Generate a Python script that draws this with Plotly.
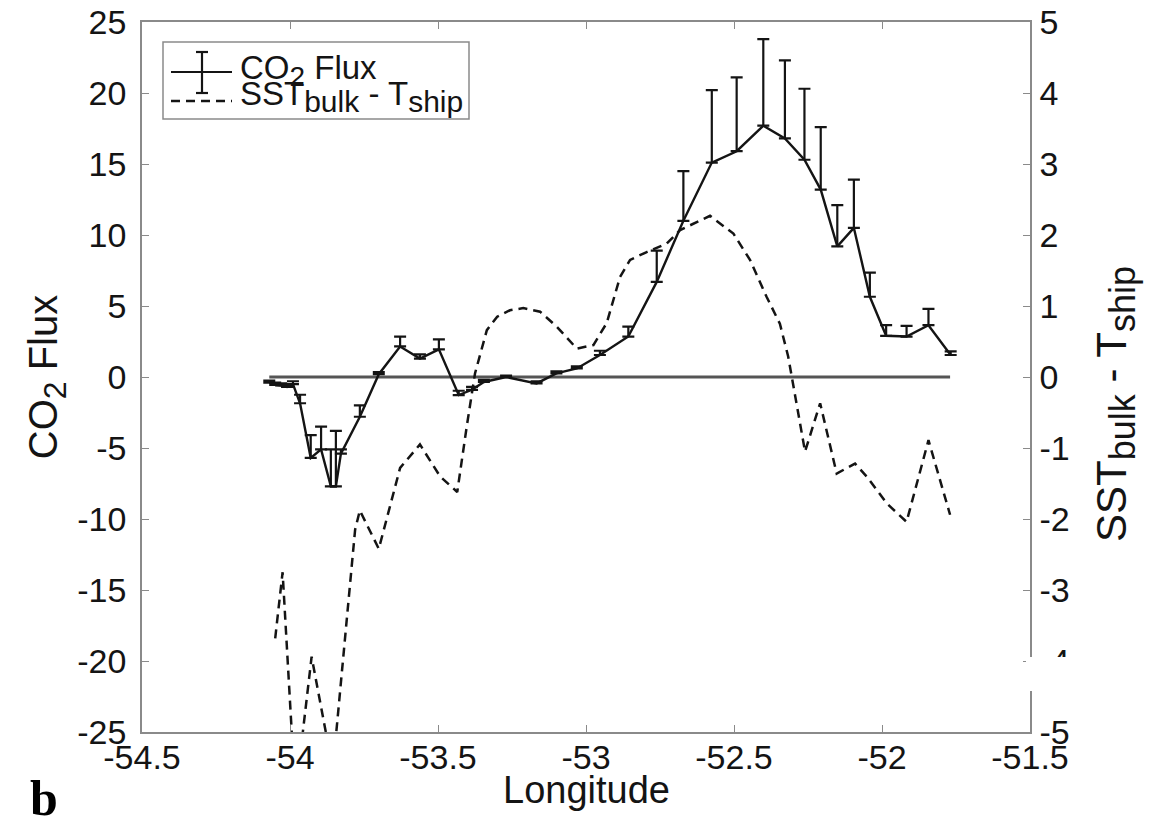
import plotly.graph_objects as go

# CO2 flux along the track (longitude, flux, upper error)
co2_lon = [-54.07, -54.05, -54.03, -54.01, -53.99, -53.966, -53.93, -53.895, -53.862, -53.845,
           -53.828, -53.764, -53.70, -53.628, -53.561, -53.497, -53.43, -53.385, -53.345, -53.27,
           -53.167, -53.10, -53.031, -52.953, -52.857, -52.761, -52.671, -52.575, -52.491, -52.401,
           -52.328, -52.262, -52.207, -52.151, -52.095, -52.041, -51.986, -51.917, -51.843, -51.768]
co2_flux = [-0.40, -0.55, -0.60, -0.70, -0.50, -1.85, -5.70, -5.10, -7.70, -7.70,
            -5.40, -2.80, 0.20, 2.15, 1.30, 1.95, -1.27, -0.90, -0.35, 0.00,
            -0.45, 0.25, 0.60, 1.55, 2.85, 6.70, 11.0, 15.1, 15.9, 17.7,
            16.8, 15.3, 13.2, 9.2, 10.5, 5.65, 2.9, 2.85, 3.65, 1.55]
co2_err = [0.15, 0.15, 0.15, 0.20, 0.20, 0.60, 1.60, 1.60, 2.60, 3.90,
           0.30, 0.80, 0.15, 0.70, 0.30, 0.70, 0.30, 0.20, 0.15, 0.10,
           0.15, 0.15, 0.15, 0.30, 0.70, 2.20, 3.50, 5.10, 5.20, 6.10,
           5.50, 5.00, 4.40, 2.90, 3.40, 1.70, 0.75, 0.75, 1.15, 0.25]

# SST_bulk - T_ship (right axis)
sst_lon = [-54.05, -54.025, -53.99, -53.965, -53.927, -53.87, -53.848, -53.78, -53.764, -53.70,
           -53.628, -53.561, -53.493, -53.435, -53.403, -53.375, -53.335, -53.30, -53.257, -53.212,
           -53.155, -53.099, -53.031, -52.975, -52.93, -52.885, -52.851, -52.795, -52.727, -52.682,
           -52.581, -52.502, -52.446, -52.39, -52.345, -52.317, -52.26, -52.209, -52.153, -52.091,
           -52.052, -51.984, -51.917, -51.843, -51.77]
sst_diff = [-3.68, -2.75, -5.3, -5.3, -3.94, -5.2, -5.2, -2.15, -1.88, -2.42,
            -1.28, -0.95, -1.40, -1.62, -0.70, 0.05, 0.66, 0.85, 0.94, 0.97,
            0.92, 0.71, 0.40, 0.45, 0.76, 1.41, 1.65, 1.76, 1.88, 2.07,
            2.27, 2.02, 1.65, 1.13, 0.75, 0.29, -1.05, -0.37, -1.36, -1.22,
            -1.40, -1.78, -2.04, -0.89, -1.94]

zero_lon = [-54.07, -51.77]
zero_val = [0, 0]

x_ticks = [-54.5, -54, -53.5, -53, -52.5, -52, -51.5]
x_labels = ["-54.5", "-54", "-53.5", "-53", "-52.5", "-52", "-51.5"]
y1_ticks = [-25, -20, -15, -10, -5, 0, 5, 10, 15, 20, 25]
y1_labels = [str(v) for v in y1_ticks]
y2_ticks = [-5, -4, -3, -2, -1, 0, 1, 2, 3, 4, 5]
y2_labels = [str(v) for v in y2_ticks]

FONT = "Liberation Sans, Arial, sans-serif"
INK = "#141414"
AX = "#8a8a8a"

# plot frame in pixels, used for placing the hand-drawn legend and titles
L, R, T, B = 142, 1030, 22, 732


def px(x):
    return (x - L) / (R - L)


def py(y):
    return (B - y) / (B - T)


def sub(s, size):
    # subscripts in the original are nearly full size
    return '<sub><span style="font-size:%dpx">%s</span></sub>' % (size, s)


fig = go.Figure()
fig.add_trace(go.Scatter(x=zero_lon, y=zero_val, mode="lines",
                         line=dict(color="#555555", width=2.8), showlegend=False))
fig.add_trace(go.Scatter(
    x=co2_lon, y=co2_flux, mode="lines", line=dict(color=INK, width=2.4),
    error_y=dict(type="data", symmetric=False, array=co2_err, arrayminus=[0] * len(co2_err),
                 color=INK, thickness=2.2, width=6),
    showlegend=False))
fig.add_trace(go.Scatter(x=sst_lon, y=sst_diff, mode="lines", yaxis="y2",
                         line=dict(color=INK, width=2.5, dash="9px,6px"), showlegend=False))

axis_common = dict(showgrid=False, zeroline=False, showline=True, linecolor=AX, linewidth=1.5,
                   ticks="inside", ticklen=7, tickcolor=AX, tickwidth=1.2,
                   tickfont=dict(family=FONT, size=34, color=INK), automargin=False)

fig.update_layout(
    width=1161, height=828,
    margin=dict(l=L, r=1161 - R, t=T, b=828 - B),
    paper_bgcolor="white", plot_bgcolor="white",
    template="none",
    showlegend=False,
    xaxis=dict(range=[-54.5, -51.5], tickvals=x_ticks, ticktext=x_labels, mirror="ticks",
               ticklabelstandoff=-6, **axis_common),
    yaxis=dict(range=[-25, 25], tickvals=y1_ticks, ticktext=y1_labels, mirror=True,
               ticklabelstandoff=7,
               title=dict(text="CO" + sub("2", 32) + " Flux", font=dict(family=FONT, size=40, color=INK),
                          standoff=7),
               **axis_common),
    yaxis2=dict(range=[-5, 5], tickvals=y2_ticks, ticktext=y2_labels, overlaying="y", side="right",
                ticklabelstandoff=1, **axis_common),
)

# legend drawn by hand so the error-bar glyph shows
shapes = [
    dict(type="rect", xref="paper", yref="paper", x0=px(163), x1=px(469), y0=py(119), y1=py(42),
         line=dict(color=AX, width=1.5), fillcolor="white", layer="above"),
    dict(type="line", xref="paper", yref="paper", x0=px(171), x1=px(232), y0=py(72), y1=py(72),
         line=dict(color=INK, width=2.2)),
    dict(type="line", xref="paper", yref="paper", x0=px(202), x1=px(202), y0=py(52), y1=py(93),
         line=dict(color=INK, width=2.2)),
    dict(type="line", xref="paper", yref="paper", x0=px(196), x1=px(208), y0=py(52), y1=py(52),
         line=dict(color=INK, width=2.2)),
    dict(type="line", xref="paper", yref="paper", x0=px(196), x1=px(208), y0=py(93), y1=py(93),
         line=dict(color=INK, width=2.2)),
    dict(type="line", xref="paper", yref="paper", x0=px(171), x1=px(232), y0=py(101), y1=py(101),
         line=dict(color=INK, width=2.5, dash="9px,6px")),
    # white patch over the right axis, as in the scanned figure
    dict(type="rect", xref="paper", yref="paper", x0=px(1026), x1=px(1085), y0=py(691), y1=py(657),
         line=dict(width=0), fillcolor="white", layer="above"),
]
fig.update_layout(shapes=shapes)

fig.add_annotation(x=px(238), y=py(70), xref="paper", yref="paper", xanchor="left", yanchor="middle",
                   text="CO" + sub("2", 28) + " Flux", showarrow=False,
                   font=dict(family=FONT, size=33, color=INK))
fig.add_annotation(x=px(238), y=py(97), xref="paper", yref="paper", xanchor="left", yanchor="middle",
                   text="SST" + sub("bulk", 30) + " - T" + sub("ship", 30), showarrow=False,
                   font=dict(family=FONT, size=33, color=INK))

# axis titles placed as in the original
fig.add_annotation(x=0.5, y=py(790), xref="paper", yref="paper", xanchor="center", yanchor="middle",
                   text="Longitude", showarrow=False, font=dict(family=FONT, size=38, color=INK))
fig.add_annotation(x=px(1116), y=py(404), xref="paper", yref="paper", xanchor="center", yanchor="middle",
                   text="SST" + sub("bulk", 36) + " - T" + sub("ship", 36), textangle=-90, showarrow=False,
                   font=dict(family=FONT, size=42, color=INK))

fig.add_annotation(x=px(44), y=py(828), xref="paper", yref="paper", xanchor="center", yanchor="bottom",
                   text="<b>b</b>", showarrow=False,
                   font=dict(family="Liberation Serif, Times New Roman, serif", size=50, color="#000"))

# the page's default 8px body margin would shift the figure off the window
fig.write_html("out.html", config={"displayModeBar": False},
               post_script="document.body.style.margin='0px';")
